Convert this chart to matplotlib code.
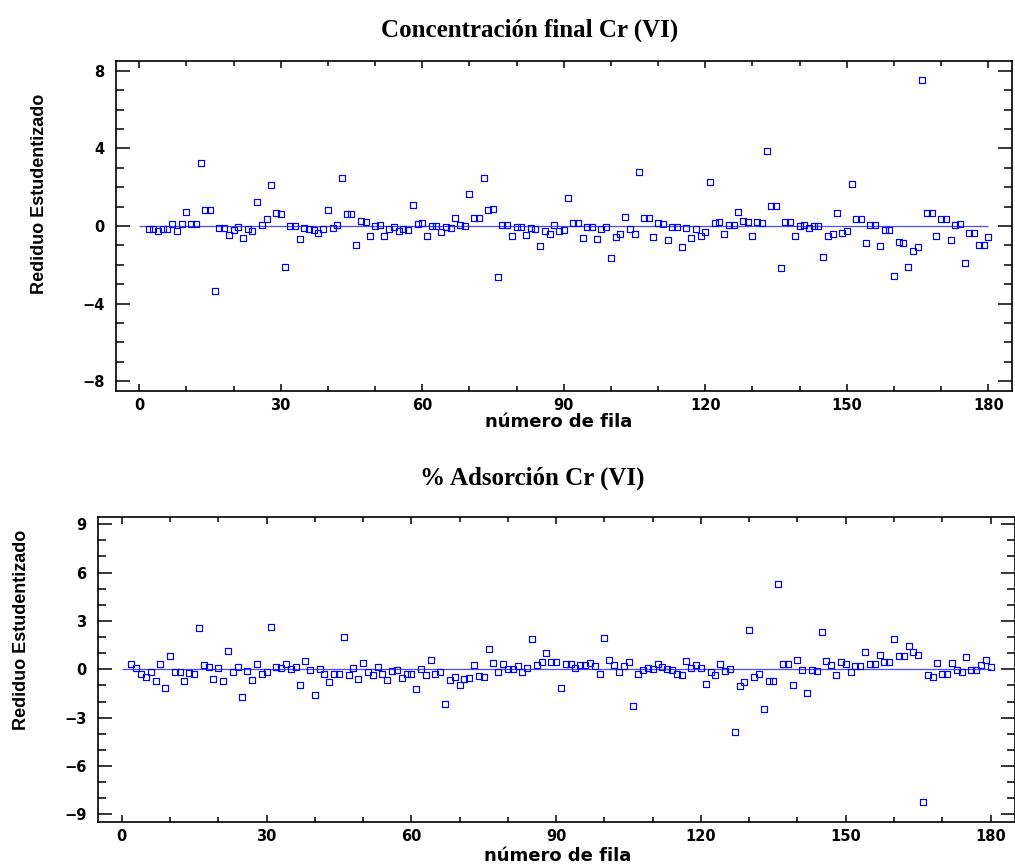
import matplotlib
matplotlib.use("Agg")
import matplotlib.pyplot as plt
from matplotlib.ticker import MultipleLocator

# ==========================
# Data (row number vs studentized residual)
# ==========================
fila = list(range(2, 181))

res_conc = [
    -0.17, -0.17, -0.24, -0.17, -0.17, 0.12, -0.27, 0.12, 0.72, 0.12,
    0.12, 3.25, 0.84, 0.84, -3.35, -0.10, -0.10, -0.45, -0.20, -0.05,
    -0.60, -0.17, -0.27, 1.24, 0.05, 0.34, 2.13, 0.67, 0.62, -2.12,
    0.00, 0.00, -0.67, -0.12, -0.17, -0.22, -0.34, -0.17, 0.84, -0.10,
    0.05, 2.48, 0.62, 0.62, -1.00, 0.27, 0.22, -0.52, 0.00, 0.07,
    -0.52, -0.15, -0.05, -0.27, -0.15, -0.22, 1.07, 0.12, 0.17, -0.52,
    0.00, 0.00, -0.33, -0.05, -0.10, 0.40, 0.07, 0.00, 1.63, 0.40,
    0.40, 2.46, 0.84, 0.89, -2.63, 0.07, 0.07, -0.52, -0.05, -0.05,
    -0.45, -0.10, -0.15, -1.05, -0.27, -0.40, 0.07, -0.27, -0.22, 1.46,
    0.17, 0.17, -0.60, -0.05, -0.05, -0.67, -0.15, -0.05, -1.67, -0.55,
    -0.40, 0.45, -0.15, -0.40, 2.80, 0.40, 0.40, -0.55, 0.17, 0.12,
    -0.72, -0.05, -0.05, -1.07, -0.10, -0.62, -0.17, -0.50, -0.33, 2.29,
    0.17, 0.22, -0.40, 0.07, 0.07, 0.72, 0.27, 0.22, -0.50, 0.22,
    0.17, 3.87, 1.01, 1.01, -2.16, 0.21, 0.21, -0.52, 0.00, 0.05,
    -0.10, 0.00, 0.00, -1.58, -0.52, -0.41, 0.65, -0.34, -0.24, 2.16,
    0.36, 0.36, -0.86, 0.05, 0.05, -1.01, -0.19, -0.19, -2.59, -0.81,
    -0.86, -2.10, -1.31, -1.08, 7.53, 0.65, 0.65, -0.52, 0.36, 0.36,
    -0.74, 0.05, 0.10, -1.91, -0.34, -0.34, -0.96, -0.96, -0.57,
]

res_ads = [
    0.31, 0.06, -0.27, -0.46, -0.19, -0.70, 0.31, -1.14, 0.83, -0.19,
    -0.19, -0.70, -0.25, -0.31, 2.59, 0.25, 0.12, -0.58, 0.06, -0.70,
    1.14, -0.19, 0.12, -1.70, -0.12, -0.64, 0.31, -0.27, -0.19, 2.65,
    0.12, 0.06, 0.31, 0.00, 0.12, -0.95, 0.52, -0.06, -1.57, 0.00,
    -0.27, -0.77, -0.31, -0.31, 2.00, -0.37, 0.06, -0.58, 0.37, -0.19,
    -0.37, 0.12, -0.27, -0.64, -0.12, -0.06, -0.52, -0.27, -0.27, -1.20,
    0.00, -0.37, 0.58, -0.27, -0.19, -2.15, -0.64, -0.46, -0.95, -0.58,
    -0.52, 0.25, -0.39, -0.46, 1.26, 0.37, -0.19, 0.31, 0.00, 0.00,
    0.19, -0.19, 0.06, 1.88, 0.25, 0.43, 1.01, 0.43, 0.43, -1.14,
    0.31, 0.31, 0.06, 0.25, 0.25, 0.37, 0.19, -0.27, 1.95, 0.58,
    0.25, -0.19, 0.19, 0.43, -2.28, -0.27, -0.06, 0.06, 0.00, 0.31,
    0.12, 0.00, -0.06, -0.27, -0.37, 0.52, 0.06, 0.25, 0.06, -0.89,
    -0.19, -0.37, 0.31, -0.12, 0.00, -3.87, -1.01, -0.77, 2.46, -0.46,
    -0.31, -2.46, -0.70, -0.70, 5.30, 0.31, 0.31, -0.95, 0.56, -0.06,
    -1.45, -0.06, -0.12, 2.34, 0.50, 0.25, -0.37, 0.43, 0.31, -0.19,
    0.19, 0.19, 1.08, 0.31, 0.31, 0.89, 0.43, 0.43, 1.88, 0.83,
    0.83, 1.45, 1.08, 0.89, -8.24, -0.37, -0.46, 0.37, -0.27, -0.27,
    0.37, -0.06, -0.19, 0.77, -0.06, -0.06, 0.25, 0.58, 0.12,
]

titles = ["Concentración final Cr (VI)", "% Adsorción Cr (VI)"]
xlabel = "número de fila"
ylabel = "Rediduo Estudentizado"

# ==========================
# Figure
# ==========================
W, H = 1015, 868
fig = plt.figure(figsize=(W / 100, H / 100), dpi=100)

def px(l, t, r, b):
    return [l / W, 1 - b / H, (r - l) / W, (b - t) / H]

# slightly wide open rectangle marker
rect = [(-1.2, -1), (1.2, -1), (1.2, 1), (-1.2, 1), (-1.2, -1)]

def panel(ax, y, ylim, ymajor):
    ax.hlines(0, 0, 180, color="#4a4aff", lw=0.9, zorder=1)
    ax.plot(fila, y, ls="none", marker=rect, ms=4.6, mfc="none",
            mec="#0000ff", mew=0.85, zorder=2)
    ax.set_xlim(-5, 185)
    ax.set_ylim(-ylim, ylim)
    ax.xaxis.set_major_locator(MultipleLocator(30))
    ax.xaxis.set_minor_locator(MultipleLocator(10))
    ax.yaxis.set_major_locator(MultipleLocator(ymajor))
    ax.yaxis.set_minor_locator(MultipleLocator(1))
    ax.tick_params(axis="both", which="both", direction="in",
                   top=True, right=True, width=1.1, colors="black")
    ax.tick_params(axis="y", which="major", length=10, pad=8)
    ax.tick_params(axis="y", which="minor", length=6)
    ax.tick_params(axis="x", which="major", length=5, pad=5)
    ax.tick_params(axis="x", which="minor", length=3.5)
    for lab in ax.get_xticklabels() + ax.get_yticklabels():
        lab.set_fontfamily("DejaVu Sans")
        lab.set_fontweight("bold")
        lab.set_fontsize(10.5)
    for s in ax.spines.values():
        s.set_linewidth(1.2)

ax1 = fig.add_axes(px(115.6, 61.3, 1011.9, 390.7))
panel(ax1, res_conc, 8.5, 4)

ax2 = fig.add_axes(px(97.6, 517.0, 1014.7, 821.6))
panel(ax2, res_ads, 9.45, 3)

title_font = dict(family="Liberation Serif", weight="bold", size=18)
label_font = dict(family="DejaVu Sans", weight="bold", size=13)
ylab_font = dict(family="Liberation Sans", weight="bold", size=13)

fig.text(530 / W, 1 - 30 / H, titles[0], ha="center", va="center", **title_font)
fig.text(532 / W, 1 - 478 / H, titles[1], ha="center", va="center", **title_font)
fig.text(559 / W, 1 - 422 / H, xlabel, ha="center", va="center", **label_font)
fig.text(558 / W, 1 - 856 / H, xlabel, ha="center", va="center", **label_font)
fig.text(40 / W, 1 - 194 / H, ylabel, rotation=90, ha="center", va="center", **ylab_font)
fig.text(22 / W, 1 - 630 / H, ylabel, rotation=90, ha="center", va="center", **ylab_font)

fig.savefig("out.png", dpi=100)
